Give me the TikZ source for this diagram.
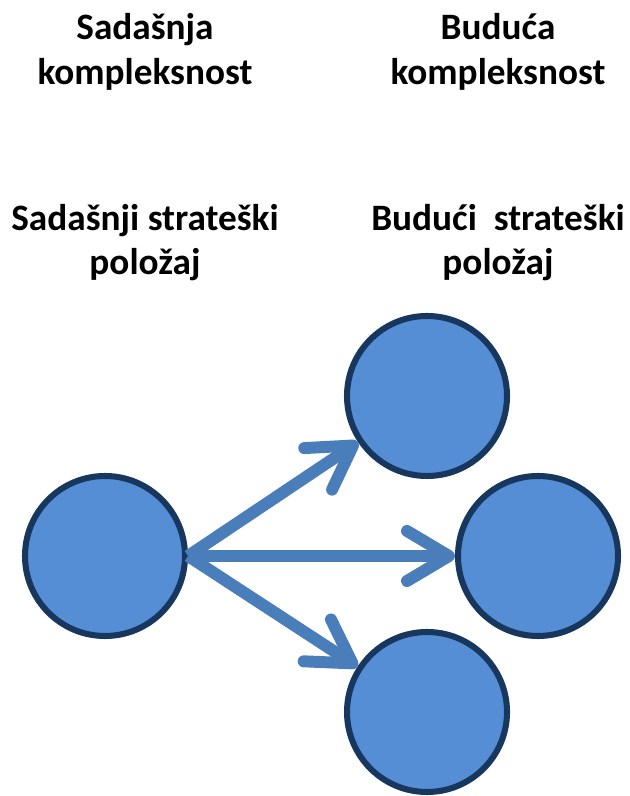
\documentclass[tikz,border=0pt]{standalone}
\usepackage{fontspec}
\setmainfont{Carlito}
\usetikzlibrary{arrows.meta}
\definecolor{krugplava}{RGB}{85,142,213}
\definecolor{rubplava}{RGB}{23,55,94}
\definecolor{strelplava}{RGB}{74,126,187}
\begin{document}
\begin{tikzpicture}[
                krug/.style={circle, draw=rubplava, fill=krugplava, line width=4.3pt, minimum size=4cm, inner sep=0pt},
                strelica/.style={color=strelplava, line width=8.5pt, -{Straight Barb[length=1.05cm, width=1.25cm, round]}},
                natpis/.style={font=\fontsize{26.5}{32}\selectfont\bfseries, align=center, anchor=base, inner sep=0pt}]
                \useasboundingbox (0, 0) rectangle (15.725, 19.9);
                \node[natpis] (kompSad) at (3.625, 17.775) {Sadašnja\\kompleksnost};
                \node[natpis] (kompBud) at (12.45, 17.775) {Buduća\\kompleksnost};
                \node[natpis] (polSad) at (3.625, 13.025) {Sadašnji strateški\\položaj};
                \node[natpis] (polBud) at (12.45, 13.025) {Budući\ \ strateški\\položaj};
                \node[krug] (sad) at (2.625, 6.0) {};
                \node[krug] (gore) at (10.675, 10.0) {};
                \node[krug] (desno) at (13.45, 6.0) {};
                \node[krug] (dolje) at (10.675, 2.1) {};
                \draw[strelica] (sad.east) -- (gore);
                \draw[strelica] (sad.east) -- (desno);
                \draw[strelica] (sad.east) -- (dolje);
            \end{tikzpicture}
\end{document}
